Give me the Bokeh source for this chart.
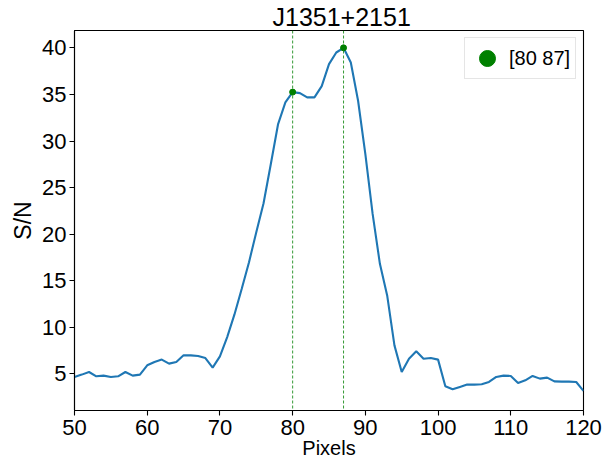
from bokeh.plotting import figure
from bokeh.models import (ColumnDataSource, Range1d, FixedTicker, Span,
                          Legend, LegendItem)
from bokeh.embed import file_html
from bokeh.resources import INLINE

# ---- data ----
title_text = "J1351+2151"
x_label = "Pixels"
y_label = "S/N"
pixels = list(range(50, 121))
snr = [4.68, 4.93, 5.21, 4.75, 4.82, 4.68, 4.75, 5.21, 4.82, 4.93,
       5.93, 6.29, 6.54, 6.11, 6.29, 7.00, 7.00, 6.93, 6.71, 5.68,
       6.89, 8.96, 11.39, 14.14, 17.00, 20.21, 23.32, 27.54, 31.82, 34.14,
       35.25, 35.14, 34.68, 34.68, 35.89, 38.25, 39.50, 40.00, 38.43, 34.32,
       28.60, 22.18, 16.82, 13.43, 8.07, 5.21, 6.64, 7.43, 6.64, 6.71,
       6.54, 3.68, 3.36, 3.61, 3.86, 3.86, 3.89, 4.14, 4.68, 4.82,
       4.79, 4.04, 4.32, 4.79, 4.50, 4.61, 4.21, 4.18, 4.18, 4.14,
       3.18]
peaks = [80, 87]
x_ticks = [50, 60, 70, 80, 90, 100, 110, 120]
y_ticks = [5, 10, 15, 20, 25, 30, 35, 40]

FONT = "Liberation Sans"

p = figure(width=608, height=464, output_backend="svg", toolbar_location=None,
           x_range=Range1d(50, 120), y_range=Range1d(1.08, 41.86),
           min_border_left=74, min_border_right=25, min_border_top=29,
           min_border_bottom=54, title=title_text)
p.background_fill_color = "white"
p.border_fill_color = "white"
p.outline_line_color = "black"
p.outline_line_width = 1.1
p.xgrid.visible = False
p.ygrid.visible = False

p.title.text_font = FONT
p.title.text_font_size = "25px"
p.title.text_font_style = "normal"
p.title.text_color = "black"
p.title.align = "left"
p.title.offset = 198
p.title.standoff = 0

src = ColumnDataSource(dict(x=pixels, y=snr))
p.line("x", "y", source=src, line_color="#1f77b4", line_width=2.1)

for pk in peaks:
    p.add_layout(Span(location=pk, dimension="height", line_color="green",
                      line_width=0.8, line_dash="3 2"))

pk_src = ColumnDataSource(dict(x=peaks, y=[snr[pixels.index(k)] for k in peaks]))
pk_r = p.scatter("x", "y", source=pk_src, size=6, marker="circle",
                 fill_color="green", line_color="green")

legend = Legend(items=[LegendItem(label="[" + " ".join(str(k) for k in peaks) + "]",
                                  renderers=[pk_r])],
                location="top_right", margin=7, padding=0, spacing=0,
                glyph_width=44, glyph_height=40, label_standoff=0,
                label_width=66, label_text_font=FONT, label_text_color="black",
                label_text_font_size="20px", label_text_baseline="middle",
                border_line_color="#cccccc", border_line_width=1,
                background_fill_color="white", background_fill_alpha=0.8)
p.add_layout(legend)

for ax in (p.xaxis[0], p.yaxis[0]):
    ax.major_label_text_font = FONT
    ax.major_label_text_font_size = "22px"
    ax.major_label_text_color = "black"
    ax.axis_line_color = "black"
    ax.axis_line_width = 1.1
    ax.major_tick_line_color = "black"
    ax.major_tick_line_width = 1.1
    ax.major_tick_out = 5
    ax.major_tick_in = 0
    ax.minor_tick_line_color = None
    ax.axis_label_text_font = FONT
    ax.axis_label_text_font_style = "normal"
    ax.axis_label_text_color = "black"

p.xaxis.ticker = FixedTicker(ticks=x_ticks)
p.yaxis.ticker = FixedTicker(ticks=y_ticks)
p.xaxis.major_label_standoff = 4
p.yaxis.major_label_standoff = 3

p.xaxis.axis_label = x_label
p.xaxis.axis_label_text_font_size = "20px"
p.xaxis.axis_label_standoff = -1
p.yaxis.axis_label = y_label
p.yaxis.axis_label_text_font_size = "23px"
p.yaxis.axis_label_standoff = 3

open("out.html", "w").write(file_html(p, INLINE))
